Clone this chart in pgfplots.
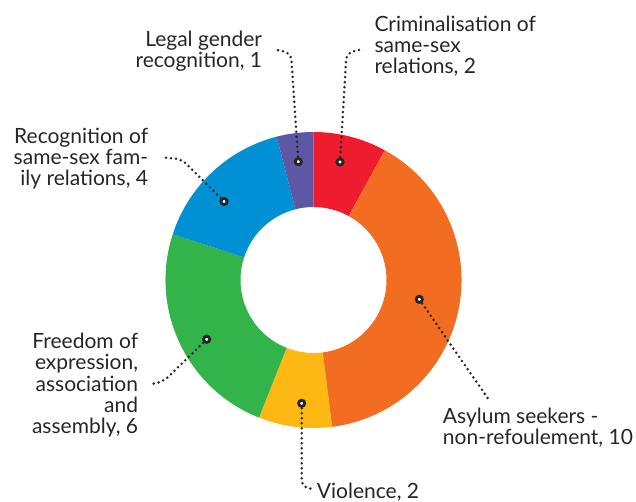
\documentclass[border=0pt]{standalone}
\usepackage{pgfplots}
\pgfplotsset{compat=1.18}
\usepackage{pgfplotstable}
\usepackage{fontspec}
\setmainfont{Lato}
\definecolor{cCrim}{HTML}{ED1C2E}
\definecolor{cAsyl}{HTML}{F26D21}
\definecolor{cViol}{HTML}{FDB813}
\definecolor{cFree}{HTML}{33B44A}
\definecolor{cFam}{HTML}{0091D5}
\definecolor{cLegal}{HTML}{5E57A5}
\definecolor{txt}{HTML}{262626}
\pgfplotstableread{
value color
2 cCrim
10 cAsyl
2 cViol
6 cFree
4 cFam
1 cLegal
}\slices
\begin{document}
\begin{tikzpicture}
\pgfplotstablegetrowsof{\slices}
\pgfmathtruncatemacro\nrows{\pgfplotsretval-1}
\def\total{0}
\pgfplotsforeachungrouped \i in {0,...,\nrows}{%
  \pgfplotstablegetelem{\i}{value}\of\slices
  \pgfmathsetmacro\total{\total+\pgfplotsretval}}
\begin{axis}[
  hide axis, disabledatascaling, clip=false,
  x=1pt, y=1pt, scale only axis,
  xmin=0, xmax=636, ymin=-502, ymax=0,
]
\def\cx{313.5}\def\cy{-280}\def\Ro{148}\def\Ri{73}
\def\cum{0}
\pgfplotsforeachungrouped \i in {0,...,\nrows}{%
  \pgfplotstablegetelem{\i}{value}\of\slices \let\v\pgfplotsretval
  \pgfplotstablegetelem{\i}{color}\of\slices \let\c\pgfplotsretval
  \pgfmathsetmacro\aA{90-\cum*360/\total}%
  \pgfmathsetmacro\cumnew{\cum+\v}%
  \pgfmathsetmacro\aB{90-\cumnew*360/\total}%
  \edef\temp{\noexpand\fill[\c] (axis cs:{\cx+\Ro*cos(\aA)},{\cy+\Ro*sin(\aA)}) arc[start angle=\aA, end angle=\aB, radius=\Ro pt] -- (axis cs:{\cx+\Ri*cos(\aB)},{\cy+\Ri*sin(\aB)}) arc[start angle=\aB, end angle=\aA, radius=\Ri pt] -- cycle;}%
  \temp
  \global\let\cum\cumnew
}
% leader lines
\begin{scope}[line width=2.8pt, dash pattern=on 0pt off 5pt, line cap=round, draw=txt, rounded corners=7pt]
\draw (axis cs:298.3,-161.7) -- (291,-53) -- (277,-50);
\draw (axis cs:340,-162) -- (346.5,-53) -- (363,-49);
\draw (axis cs:224,-201.5) -- (181.5,-159) -- (162,-157.5);
\draw (axis cs:206.7,-339.3) -- (163.3,-381.7) -- (150,-384.3);
\draw (axis cs:301.7,-403.3) -- (301.7,-487) -- (313,-489);
\draw (axis cs:419.3,-299.3) -- (488.3,-399);
\end{scope}
\addplot[only marks, mark=*, mark size=3.1pt, mark options={fill=white, draw=txt, line width=2.8pt}] coordinates {
(340,-162) (298.3,-161.7) (224,-201.5) (206.7,-339.3) (301.7,-403.3) (419.3,-299.3)};
% labels
\begin{scope}[every node/.style={inner sep=0pt, text=txt, font=\fontsize{21}{21.2}\selectfont}]
\node[anchor=north east, align=right] at (axis cs:262.3,-30.5) {Legal gender\\recognition, 1};
\node[anchor=north west, align=left] at (axis cs:374.3,-15.5) {Criminalisation of\\same-sex\\relations, 2};
\node[anchor=north east, align=right] at (axis cs:148.3,-128) {Recognition of\\same-sex fam-\\ily relations, 4};
\node[anchor=north east, align=right] at (axis cs:138.3,-333) {Freedom of\\expression,\\association\\and\\assembly, 6};
\node[anchor=north west, align=left] at (axis cs:442.7,-407.5) {Asylum seekers -\\non-refoulement, 10};
\node[anchor=north west, align=left] at (axis cs:316.7,-482.5) {Violence, 2};
\end{scope}
\end{axis}
\pgfresetboundingbox
\path (current axis.south west) rectangle (current axis.north east);
\end{tikzpicture}
\end{document}
